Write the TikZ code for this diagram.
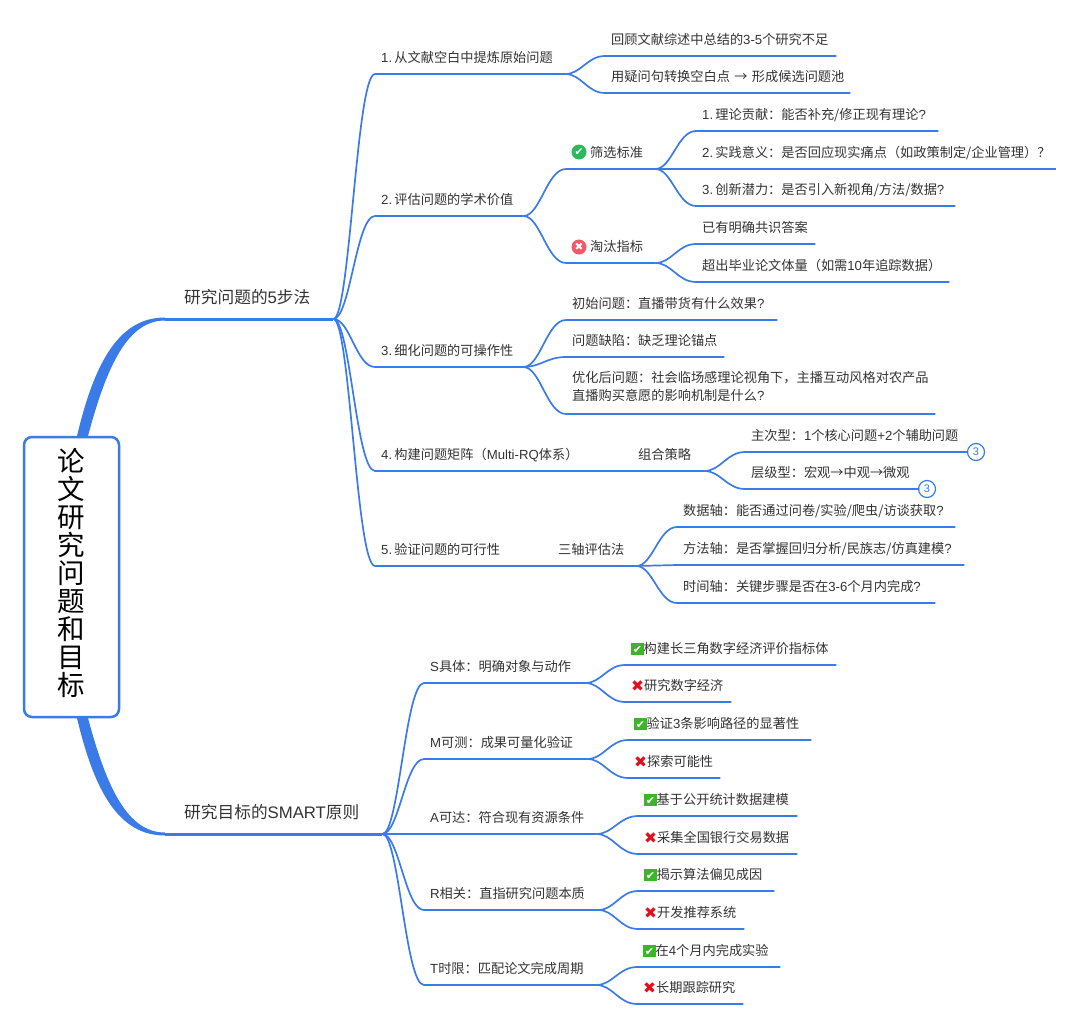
\documentclass[tikz,border=0pt]{standalone}
\usepackage{fontspec}
\setmainfont{Noto Sans CJK SC}
\newfontfamily\latin{Liberation Sans}
\newfontfamily\dejavu{DejaVu Sans}
\usetikzlibrary{calc}

\definecolor{Blue}{HTML}{3B7BE8}
\definecolor{Ink}{HTML}{333333}
\definecolor{Pass}{HTML}{2DB85C}
\definecolor{Fail}{HTML}{F4566A}
\definecolor{Tick}{HTML}{3DB52A}
\definecolor{Cross}{HTML}{E0101C}

\newcommand{\Lat}[1]{{\latin #1}}
\newcommand{\Yes}{\raisebox{-1.5pt}{\fboxsep=0pt\colorbox{Tick}{\makebox[12.5pt]{\rule{0pt}{12.5pt}\raisebox{1.5pt}[0pt][0pt]{\fontsize{11}{11}\selectfont\dejavu\textcolor{white}{✔}}}}}}
\newcommand{\No}{\raisebox{-1pt}[0pt][0pt]{\fontsize{15.5}{15.5}\selectfont\dejavu\textcolor{Cross}{✖}}}

\tikzstyle{Root} = [draw=Blue,
                     fill=white,
                     line width=2.5pt,
                     rounded corners=8pt,
                     minimum width=95pt,
                     minimum height=280pt,
                     align=center,
                     text=black,
                     text depth=11pt,
                     font=\fontsize{27.5}{28}\selectfont]
\tikzstyle{Main} = [anchor=south west,
                     inner xsep=19pt,
                     inner ysep=15.5pt,
                     text depth=0pt,
                     align=left,
                     text=Ink,
                     font=\fontsize{16.7}{20}\selectfont]
\tikzstyle{Topic} = [anchor=south west,
                     inner xsep=6pt,
                     inner ysep=11pt,
                     text depth=0pt,
                     align=left,
                     text=Ink,
                     font=\fontsize{13.2}{18}\selectfont]
\tikzstyle{Badge} = [circle,
                     inner sep=0pt,
                     minimum size=15pt,
                     text=white,
                     font=\fontsize{10.5}{10.5}\selectfont\dejavu]
\tikzstyle{Count} = [circle,
                     draw=Blue,
                     line width=1.2pt,
                     fill=white,
                     inner sep=0pt,
                     minimum size=17pt,
                     text=Blue,
                     font=\fontsize{11}{11}\selectfont\latin]
\tikzstyle{Link} = [draw=Blue, line width=1.7pt]
\tikzstyle{Bend} = [to path={let \p1=(\tikztostart), \p2=(\tikztotarget) in
                     .. controls ({\x1+0.4*(\x2-\x1)},\y1) and ({\x1+0.55*(\x2-\x1)},\y2) .. (\p2)}]

\begin{document}
\begin{tikzpicture}[x=1pt, y=-1pt]

    \useasboundingbox (0, 0) rectangle (1080, 1028);

    % Main branches
    \node (question) at (165, 319) [Main, text width=130pt]{研究问题的\Lat{5}步法};
    \node (goal) at (165, 834) [Main, text width=179pt]{研究目标的\Lat{SMART}原则};

    % Five steps
    \node (raw) at (375, 74) [Topic, text width=178pt]{\Lat{1.\,}从文献空白中提炼原始问题};
    \node (value) at (375, 216) [Topic, text width=136pt]{\Lat{2.\,}评估问题的学术价值};
    \node (detail) at (375, 367) [Topic, text width=136pt]{\Lat{3.\,}细化问题的可操作性};
    \node (matrix) at (375, 471) [Topic, text width=245pt]{\Lat{4.\,}构建问题矩阵（\Lat{Multi-RQ}体系）};
    \node (combo) at (632, 471) [Topic, text width=60pt]{组合策略};
    \node (check) at (375, 566) [Topic, text width=165pt]{\Lat{5.\,}验证问题的可行性};
    \node (axes) at (552, 566) [Topic, text width=72pt]{三轴评估法};

    % Step 1
    \node (review) at (605, 56) [Topic, text width=219pt]{回顾文献综述中总结的\Lat{3-5}个研究不足};
    \node (pool) at (605, 93) [Topic, text width=233pt]{用疑问句转换空白点~→~形成候选问题池};

    % Step 2
    \node (keep) at (566, 169) [Topic, text width=77pt]{\hspace*{18pt}筛选标准};
    \node (drop) at (566, 263) [Topic, text width=77pt]{\hspace*{18pt}淘汰指标};
    \node (keepicon) at (579, 152) [Badge, fill=Pass]{✔};
    \node (dropicon) at (579, 247) [Badge, fill=Fail]{✖};
    \node (theory) at (696, 131) [Topic, text width=230pt]{\Lat{1.\,}理论贡献：能否补充/修正现有理论\Lat{?}};
    \node (practice) at (696, 169) [Topic, text width=348pt]{\Lat{2.\,}实践意义：是否回应现实痛点（如政策制定/企业管理）？};
    \node (novel) at (696, 206) [Topic, text width=247pt]{\Lat{3.\,}创新潜力：是否引入新视角/方法/数据\Lat{?}};
    \node (known) at (696, 244) [Topic, text width=107pt]{已有明确共识答案};
    \node (toolong) at (696, 282) [Topic, text width=241pt]{超出毕业论文体量（如需\Lat{10}年追踪数据）};

    % Step 3
    \node (first) at (566, 320) [Topic, text width=199pt]{初始问题：直播带货有什么效果\Lat{?}};
    \node (flaw) at (566, 357) [Topic, text width=146pt]{问题缺陷：缺乏理论锚点};
    \node (better) at (566, 414) [Topic, text width=357pt, text depth=20pt]{优化后问题：社会临场感理论视角下，主播互动风格对农产品\\直播购买意愿的影响机制是什么\Lat{?}};

    % Step 4
    \node (major) at (745, 452) [Topic, text width=210pt]{主次型：\Lat{1}个核心问题\Lat{+2}个辅助问题};
    \node (level) at (745, 489) [Topic, text width=162pt]{层级型：宏观→中观→微观};
    \node (majorcount) at (976, 452) [Count]{3};
    \node (levelcount) at (927, 489) [Count]{3};

    % Step 5
    \node (data) at (677, 527) [Topic, text width=266pt]{数据轴：能否通过问卷/实验/爬虫/访谈获取\Lat{?}};
    \node (method) at (677, 565) [Topic, text width=275pt]{方法轴：是否掌握回归分析/民族志/仿真建模\Lat{?}};
    \node (time) at (677, 603) [Topic, text width=246pt]{时间轴：关键步骤是否在\Lat{3-6}个月内完成\Lat{?}};

    % SMART
    \node (S) at (424, 683) [Topic, text width=149pt]{\Lat{S}具体：明确对象与动作};
    \node (M) at (424, 759) [Topic, text width=151pt]{\Lat{M}可测：成果可量化验证};
    \node (A) at (424, 834) [Topic, text width=160pt]{\Lat{A}可达：符合现有资源条件};
    \node (R) at (424, 910) [Topic, text width=162pt]{\Lat{R}相关：直指研究问题本质};
    \node (T) at (424, 985) [Topic, text width=160pt]{\Lat{T}时限：匹配论文完成周期};

    \node (Syes) at (625, 665) [Topic, text width=199pt]{\Yes{}构建长三角数字经济评价指标体};
    \node (Sno) at (625, 702) [Topic, text width=94pt]{\No{}研究数字经济};
    \node (Myes) at (628, 740) [Topic, text width=171pt]{\Yes{}验证\Lat{3}条影响路径的显著性};
    \node (Mno) at (628, 778) [Topic, text width=80pt]{\No{}探索可能性};
    \node (Ayes) at (638, 816) [Topic, text width=147pt]{\Yes{}基于公开统计数据建模};
    \node (Ano) at (638, 854) [Topic, text width=147pt]{\No{}采集全国银行交易数据};
    \node (Ryes) at (638, 891) [Topic, text width=124pt]{\Yes{}揭示算法偏见成因};
    \node (Rno) at (638, 929) [Topic, text width=94pt]{\No{}开发推荐系统};
    \node (Tyes) at (637, 967) [Topic, text width=131pt]{\Yes{}在\Lat{4}个月内完成实验};
    \node (Tno) at (637, 1004) [Topic, text width=94pt]{\No{}长期跟踪研究};

    % Lines from the root
    \draw [Blue, line width=3pt] (question.south west) -- (question.south east);
    \draw [Blue, line width=3pt] (goal.south west) -- (goal.south east);
    \fill [Blue] (77, 436) .. controls (95, 360) and (120, 317.5) .. ([yshift=1.5pt]question.south west)
        -- ([yshift=-1.5pt]question.south west) .. controls (128, 320.5) and (107, 365) .. (88, 436) -- cycle;
    \fill [Blue] (77, 718) .. controls (95, 794) and (120, 835.5) .. ([yshift=-1.5pt]goal.south west)
        -- ([yshift=1.5pt]goal.south west) .. controls (128, 832.5) and (107, 789) .. (88, 718) -- cycle;

    % Root
    \node (root) at (71.5, 577) [Root]{论\\文\\研\\究\\问\\题\\和\\目\\标};

    % Lines of the five steps
    \draw [Link] (question.south east) to [Bend] (raw.south west) -- (raw.south east);
    \draw [Link] (question.south east) to [Bend] (value.south west) -- (value.south east);
    \draw [Link] (question.south east) to [Bend] (detail.south west) -- (detail.south east);
    \draw [Link] (question.south east) to [Bend] (matrix.south west) -- (matrix.south east) -- (combo.south east);
    \draw [Link] (question.south east) to [Bend] (check.south west) -- (check.south east) -- (axes.south east);

    \draw [Link] (raw.south east) to [Bend] (review.south west) -- (review.south east);
    \draw [Link] (raw.south east) to [Bend] (pool.south west) -- (pool.south east);

    \draw [Link] (value.south east) to [Bend] (keep.south west) -- (keep.south east);
    \draw [Link] (value.south east) to [Bend] (drop.south west) -- (drop.south east);
    \draw [Link] (keep.south east) to [Bend] (theory.south west) -- (theory.south east);
    \draw [Link] (keep.south east) -- (practice.south west) -- (practice.south east);
    \draw [Link] (keep.south east) to [Bend] (novel.south west) -- (novel.south east);
    \draw [Link] (drop.south east) to [Bend] (known.south west) -- (known.south east);
    \draw [Link] (drop.south east) to [Bend] (toolong.south west) -- (toolong.south east);

    \draw [Link] (detail.south east) to [Bend] (first.south west) -- (first.south east);
    \draw [Link] (detail.south east) to [Bend] (flaw.south west) -- (flaw.south east);
    \draw [Link] (detail.south east) to [Bend] (better.south west) -- (better.south east);

    \draw [Link] (combo.south east) to [Bend] (major.south west) -- (major.south east) -- (majorcount);
    \draw [Link] (combo.south east) to [Bend] (level.south west) -- (level.south east) -- (levelcount);

    \draw [Link] (axes.south east) to [Bend] (data.south west) -- (data.south east);
    \draw [Link] (axes.south east) -- (method.south west) -- (method.south east);
    \draw [Link] (axes.south east) to [Bend] (time.south west) -- (time.south east);

    % Lines of SMART
    \draw [Link] (goal.south east) to [Bend] (S.south west) -- (S.south east);
    \draw [Link] (goal.south east) to [Bend] (M.south west) -- (M.south east);
    \draw [Link] (goal.south east) -- (A.south west) -- (A.south east);
    \draw [Link] (goal.south east) to [Bend] (R.south west) -- (R.south east);
    \draw [Link] (goal.south east) to [Bend] (T.south west) -- (T.south east);

    \draw [Link] (S.south east) to [Bend] (Syes.south west) -- (Syes.south east);
    \draw [Link] (S.south east) to [Bend] (Sno.south west) -- (Sno.south east);
    \draw [Link] (M.south east) to [Bend] (Myes.south west) -- (Myes.south east);
    \draw [Link] (M.south east) to [Bend] (Mno.south west) -- (Mno.south east);
    \draw [Link] (A.south east) to [Bend] (Ayes.south west) -- (Ayes.south east);
    \draw [Link] (A.south east) to [Bend] (Ano.south west) -- (Ano.south east);
    \draw [Link] (R.south east) to [Bend] (Ryes.south west) -- (Ryes.south east);
    \draw [Link] (R.south east) to [Bend] (Rno.south west) -- (Rno.south east);
    \draw [Link] (T.south east) to [Bend] (Tyes.south west) -- (Tyes.south east);
    \draw [Link] (T.south east) to [Bend] (Tno.south west) -- (Tno.south east);

\end{tikzpicture}
\end{document}
